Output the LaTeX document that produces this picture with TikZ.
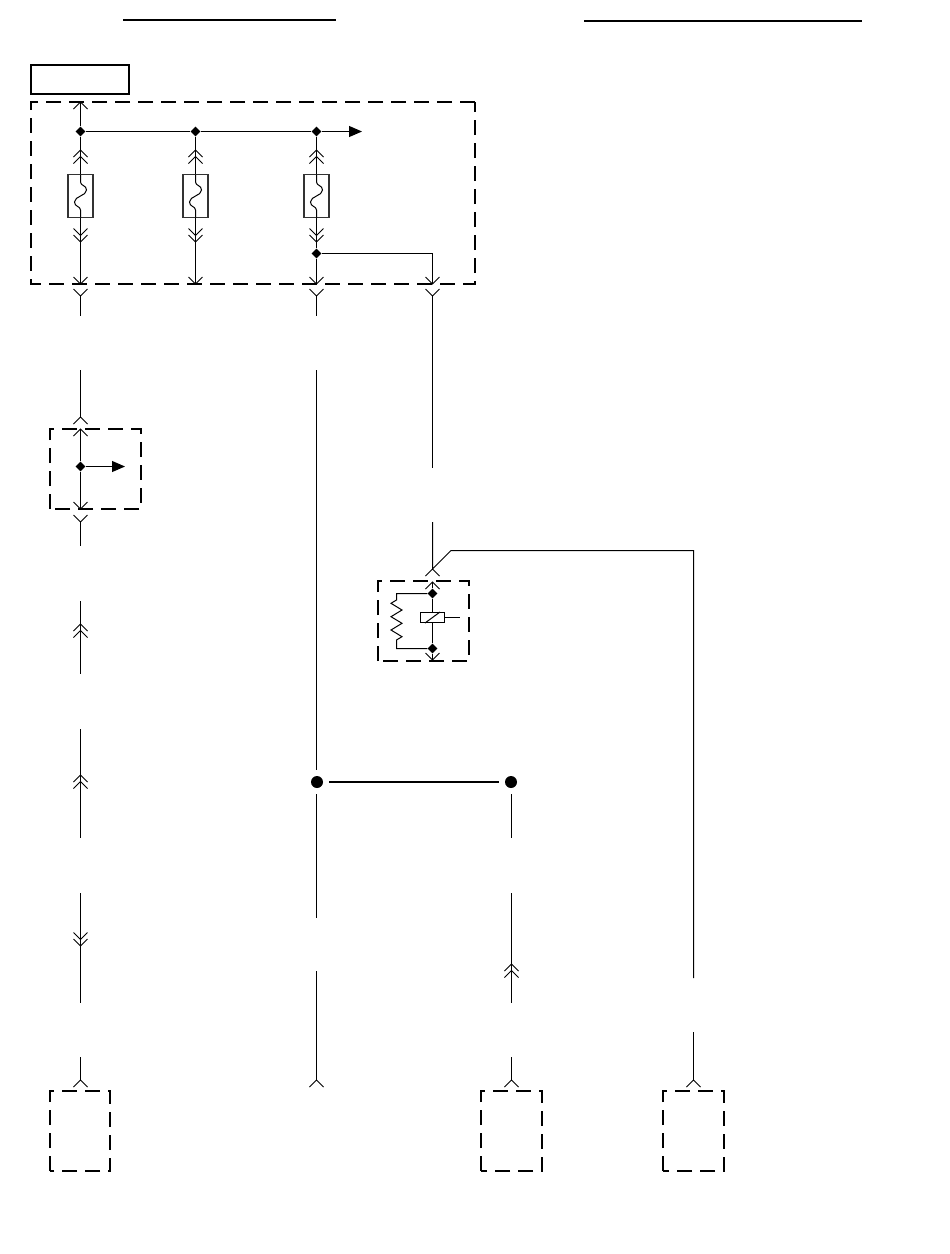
\documentclass[tikz,border=0pt]{standalone}
\usetikzlibrary{shapes.geometric,arrows.meta}
\tikzset{
  wire/.style={line width=1pt,draw=black},
  heavy/.style={line width=2pt,draw=black},
  dashbox/.style={line width=2.2pt,draw=black,dash pattern=on 15pt off 8pt},
  jd/.style={diamond,fill=black,draw=none,minimum width=10pt,minimum height=10pt,inner sep=0pt},
  bigdot/.style={circle,fill=black,draw=none,minimum size=12pt,inner sep=0pt},
  arr/.style={wire,-{Triangle[length=13pt,width=11pt]}},
  part/.style={line width=1.1pt,draw=black!80,fill=white},
  chevU/.pic={\draw[wire] (-7,7)--(0,0)--(7,7);},
  chevD/.pic={\draw[wire] (-7,-7)--(0,0)--(7,-7);},
  dblU/.pic={\draw[wire] (-7,7)--(0,0)--(7,7) (-7,13.5)--(0,6.5)--(7,13.5);},
  dblD/.pic={\draw[wire] (-7,-7)--(0,0)--(7,-7) (-7,-13.5)--(0,-6.5)--(7,-13.5);},
  fusepart/.pic={
    \draw[part] (-12.5,-21.5) rectangle (12.5,21.5);
    \draw[wire] (0,-21.5) -- (0,-14) .. controls (0,-10) and (6,-11) .. (6,-6) .. controls (6,0) and (-6,0) .. (-6,6) .. controls (-6,11) and (0,10) .. (0,14) -- (0,21.5);
  }
}
\begin{document}
\begin{tikzpicture}[x=1pt,y=-1pt]
\useasboundingbox (0,0) rectangle (950,1254);
% header rules
\coordinate (ha) at (123,19.5); \coordinate (hb) at (336,19.5);
\coordinate (hc) at (584,20.5); \coordinate (hd) at (862,20.5);
\draw[heavy] (ha)--(hb);
\draw[heavy] (hc)--(hd);
\node[draw=black,line width=2pt,minimum width=98pt,minimum height=29pt,inner sep=0pt] (title) at (80,79.5) {};
% dashed outlines
\draw[dashbox] (475,102) -- (31,102) -- (31,284) -- (475,284) -- cycle;
\draw[dashbox] (50,509) -- (50,429) -- (141,429) -- (141,509) -- cycle;
\draw[dashbox] (378,661) -- (378,581) -- (469,581) -- (469,661) -- cycle;
\draw[dashbox] (50,1171) -- (50,1091) -- (110,1091) -- (110,1171) -- cycle;
\draw[dashbox] (481,1171) -- (481,1091) -- (542,1091) -- (542,1171) -- cycle;
\draw[dashbox] (663,1171) -- (663,1091) -- (724,1091) -- (724,1171) -- cycle;
% junctions
\node[jd] (j1) at (80.5,131.5) {};
\node[jd] (j2) at (195.5,131.5) {};
\node[jd] (j3) at (316.5,131.5) {};
\node[jd] (j4) at (316.5,253.5) {};
\node[jd] (j5) at (80.5,466.5) {};
\node[jd] (j6) at (432.5,593.5) {};
\node[jd] (j7) at (432.5,648.5) {};
\node[bigdot] (s1) at (317,782) {};
\node[bigdot] (s2) at (511,782) {};
% fuses' free ends
\coordinate (a0) at (80.5,102); \coordinate (a1) at (80.5,284);
\coordinate (b1) at (195.5,284);
\coordinate (c1) at (316.5,284);
\coordinate (d0) at (432.5,253.5); \coordinate (d1) at (432.5,284);
\coordinate (arrow1) at (362,131.5);
\coordinate (arrow2) at (125,466.5);
% top box wiring
\draw[wire] (a0)--(j1)--(a1);
\draw[wire] (j1)--(j2)--(j3);
\draw[arr] (j3)--(arrow1);
\draw[wire] (j2)--(b1);
\draw[wire] (j3)--(j4)--(c1);
\draw[wire] (j4)--(d0)--(d1);
\foreach \x in {80.5,195.5,316.5}{
  \pic at (\x,150) {dblU};
  \pic at (\x,196) {fusepart};
  \pic at (\x,242) {dblD};
  \pic at (\x,284) {chevD};
}
\pic at (80.5,102) {chevU};
\pic at (432.5,284) {chevD};
% stubs below top box
\coordinate (p1) at (80.5,296); \coordinate (p2) at (80.5,316);
\coordinate (q1) at (316.5,296); \coordinate (q2) at (316.5,316);
\coordinate (r1) at (432.5,296); \coordinate (r2) at (432.5,468);
\draw[wire] (p1)--(p2) (q1)--(q2) (r1)--(r2);
\pic at (80.5,296) {chevD}; \pic at (316.5,296) {chevD}; \pic at (432.5,296) {chevD};
% left column
\coordinate (l1) at (80.5,370); \coordinate (l2) at (80.5,417);
\coordinate (l3) at (80.5,429); \coordinate (l4) at (80.5,509);
\coordinate (l5) at (80.5,522); \coordinate (l6) at (80.5,546);
\draw[wire] (l1)--(l2) (l3)--(j5)--(l4) (l5)--(l6);
\draw[arr] (j5)--(arrow2);
\pic at (80.5,417) {chevU}; \pic at (80.5,429) {chevU};
\pic at (80.5,509) {chevD}; \pic at (80.5,522) {chevD};
\coordinate (m1) at (80.5,601); \coordinate (m2) at (80.5,674);
\coordinate (m3) at (80.5,729); \coordinate (m4) at (80.5,838);
\coordinate (m5) at (80.5,893); \coordinate (m6) at (80.5,1003);
\coordinate (m7) at (80.5,1057); \coordinate (m8) at (80.5,1080);
\draw[wire] (m1)--(m2) (m3)--(m4) (m5)--(m6) (m7)--(m8);
\pic at (80.5,624) {dblU}; \pic at (80.5,775) {dblU}; \pic at (80.5,946) {dblD};
\pic at (80.5,1080) {chevU};
% middle column
\coordinate (n1) at (316.5,370); \coordinate (n2) at (316.5,770);
\coordinate (n3) at (316.5,794); \coordinate (n4) at (316.5,918);
\coordinate (n5) at (316.5,971); \coordinate (n6) at (316.5,1080);
\draw[wire] (n1)--(n2) (n3)--(n4) (n5)--(n6);
\pic at (316.5,1080) {chevU};
\draw[heavy] ([xshift=6pt]s1.east)--([xshift=-6pt]s2.west);
% splice column
\coordinate (o1) at (511.5,794); \coordinate (o2) at (511.5,838);
\coordinate (o3) at (511.5,893); \coordinate (o4) at (511.5,1003);
\coordinate (o5) at (511.5,1057); \coordinate (o6) at (511.5,1080);
\draw[wire] (o1)--(o2) (o3)--(o4) (o5)--(o6);
\pic at (511.5,964) {dblU}; \pic at (511.5,1080) {chevU};
% relay
\coordinate (u1) at (432.5,522); \coordinate (u2) at (432.5,569);
\coordinate (u3) at (451,550.5); \coordinate (u4) at (693.5,550.5); \coordinate (u5) at (693.5,978);
\coordinate (u6) at (693.5,1032); \coordinate (u7) at (693.5,1080);
\draw[wire] (u1)--(u2)--(u3)--(u4)--(u5);
\draw[wire] (u6)--(u7);
\pic at (432.5,569) {chevU}; \pic at (693.5,1080) {chevU};
\coordinate (v0) at (432.5,582); \coordinate (v1) at (432.5,660);
\draw[wire] (v0)--(j6)--(j7)--(v1);
\pic at (432.5,582) {chevU}; \pic at (432.5,660) {chevD};
\coordinate (w1) at (396.5,593.5); \coordinate (w2) at (396.5,648.5);
\draw[wire] (j6)--(w1)--(396.5,600)--(391,603.3)--(402,610)--(391,616.7)--(402,623.3)--(391,630)--(402,636.7)--(396.5,640)--(w2)--(j7);
\node[draw=black,line width=1pt,fill=white,minimum width=24pt,minimum height=10pt,inner sep=0pt] (coil) at (432.5,617.5) {};
\draw[wire] (coil.south west)++(5,0)--([xshift=-5pt]coil.north east);
\coordinate (w3) at (460,617.5);
\draw[wire] (coil.east)--(w3);
\end{tikzpicture}
\end{document}
